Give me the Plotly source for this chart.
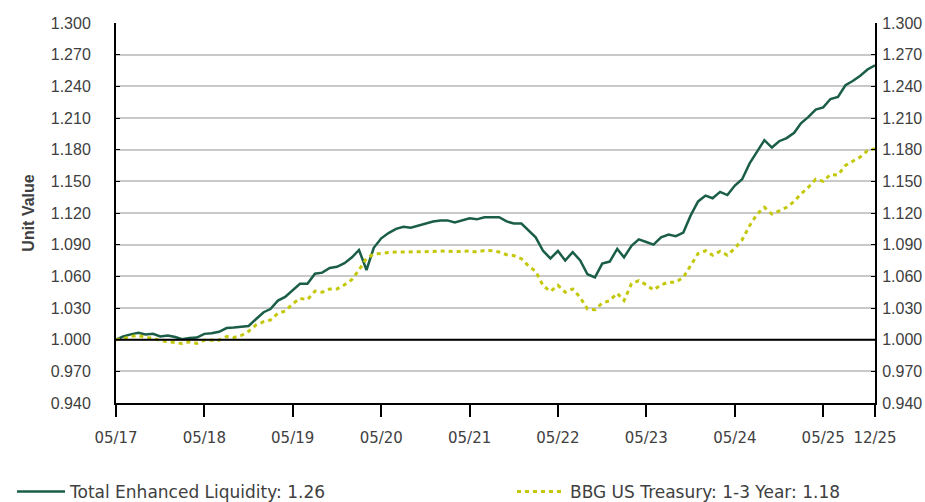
import pandas as pd
import plotly.graph_objects as go

# Month-end dates, May 2017 through December 2025
dates = pd.date_range("2017-05-31", periods=104, freq="ME")

enhanced_liquidity = [
    1.000, 1.003, 1.005, 1.0065, 1.005, 1.0055, 1.003, 1.004, 1.0025, 1.0005,
    1.0015, 1.002, 1.0055, 1.006, 1.0075, 1.011, 1.0115, 1.012, 1.013, 1.0196,
    1.026, 1.029, 1.037, 1.0405, 1.047, 1.053, 1.053, 1.0625, 1.0635, 1.068,
    1.069, 1.0725, 1.078, 1.085, 1.066, 1.087, 1.096, 1.101, 1.105, 1.107,
    1.106, 1.108, 1.110, 1.112, 1.113, 1.113, 1.111, 1.113, 1.115, 1.114,
    1.116, 1.116, 1.116, 1.112, 1.110, 1.110, 1.103, 1.097, 1.084, 1.077,
    1.084, 1.075, 1.083, 1.075, 1.062, 1.059, 1.072, 1.074, 1.086, 1.078,
    1.089, 1.095, 1.0925, 1.090, 1.097, 1.0995, 1.098, 1.1015, 1.1175, 1.131,
    1.1365, 1.134, 1.140, 1.137, 1.146, 1.152, 1.167, 1.178, 1.189, 1.182,
    1.188, 1.191, 1.196, 1.205, 1.211, 1.218, 1.220, 1.228, 1.230, 1.241,
    1.245, 1.250, 1.256, 1.260,
]

treasury_1_3 = [
    1.000, 1.001, 1.003, 1.004, 1.002, 1.0015, 0.999, 0.998, 0.9965, 0.9963,
    0.998, 0.9965, 0.9995, 0.9995, 0.9995, 1.003, 1.002, 1.004, 1.008, 1.014,
    1.017, 1.0186, 1.025, 1.027, 1.034, 1.039, 1.038, 1.046, 1.045, 1.048,
    1.048, 1.052, 1.057, 1.066, 1.077, 1.081, 1.082, 1.0825, 1.083, 1.083,
    1.083, 1.083, 1.0835, 1.0835, 1.084, 1.0835, 1.0835, 1.0835, 1.084, 1.083,
    1.0845, 1.0843, 1.083, 1.0805, 1.0796, 1.0767, 1.0695, 1.0647, 1.051, 1.0458,
    1.0515, 1.045, 1.048, 1.040, 1.029, 1.0284, 1.0347, 1.037, 1.044, 1.037,
    1.053, 1.056, 1.052, 1.047, 1.052, 1.0544, 1.0544, 1.059, 1.070, 1.0816,
    1.0843, 1.080, 1.0837, 1.080, 1.0867, 1.0946, 1.108, 1.119, 1.1254, 1.119,
    1.122, 1.1254, 1.131, 1.138, 1.1445, 1.152, 1.150, 1.1565, 1.156, 1.165,
    1.169, 1.173, 1.179, 1.181,
]

series_names = [
    "Total Enhanced Liquidity: 1.26",
    "BBG US Treasury: 1-3 Year: 1.18",
]

x_tick_dates = pd.to_datetime([
    "2017-05-31", "2018-05-31", "2019-05-31", "2020-05-31", "2021-05-31",
    "2022-05-31", "2023-05-31", "2024-05-31", "2025-05-31", "2025-12-31",
])
x_tick_labels = ["05/17", "05/18", "05/19", "05/20", "05/21",
                 "05/22", "05/23", "05/24", "05/25", "12/25"]

y_ticks = [0.94, 0.97, 1.00, 1.03, 1.06, 1.09, 1.12, 1.15, 1.18, 1.21, 1.24, 1.27, 1.30]

GREEN = "#1b5e47"
LIME = "#c4c80c"
TICK_FONT = dict(family="Liberation Sans, Arial, sans-serif", size=16, color="#404040")
CAT_FAMILY = "DejaVu Sans, Liberation Sans, sans-serif"
CAT_FONT = dict(family=CAT_FAMILY, size=15, color="#404040")

fig = go.Figure()
fig.add_trace(go.Scatter(
    x=dates, y=enhanced_liquidity, name=series_names[0], mode="lines",
    line=dict(color=GREEN, width=2.5), legend="legend",
))
fig.add_trace(go.Scatter(
    x=dates, y=treasury_1_3, name=series_names[1], mode="lines",
    line=dict(color=LIME, width=3, dash="4px,4px"), yaxis="y2", legend="legend2",
))

# Baseline at 1.000
fig.add_shape(type="line", xref="paper", x0=0, x1=1, yref="y", y0=1.0, y1=1.0,
              line=dict(color="black", width=2), layer="above")

yaxis_common = dict(
    range=[0.94, 1.30], tickvals=y_ticks, tickformat=".3f",
    tickfont=TICK_FONT, showline=True, linecolor="black", linewidth=2,
    ticks="inside", ticklen=4, tickcolor="black", tickwidth=1,
    automargin=False,
)

legend_common = dict(
    orientation="h", xref="container", yref="container",
    yanchor="middle", xanchor="left", y=0.02,
    font=dict(family=CAT_FAMILY, size=17, color="#404040"),
    itemwidth=48, bgcolor="rgba(0,0,0,0)",
)

fig.update_layout(
    width=925, height=502,
    margin=dict(l=116, r=50, t=23, b=99, autoexpand=False),
    paper_bgcolor="white", plot_bgcolor="white",
    showlegend=True,
    legend=dict(**legend_common, x=12 / 925),
    legend2=dict(**legend_common, x=512 / 925),
    xaxis=dict(
        range=[dates[0], dates[-1]], tickvals=x_tick_dates, ticktext=x_tick_labels,
        tickfont=CAT_FONT, showgrid=False, showline=True, linecolor="black",
        linewidth=2, ticks="outside", ticklen=12, tickcolor="black", tickwidth=2,
        ticklabelstandoff=8, automargin=False,
    ),
    yaxis=dict(
        **yaxis_common,
        showgrid=True, gridcolor="#c9c9c9", gridwidth=2,
        ticklabelstandoff=20,
        title=dict(text="<b>Unit Value</b>", standoff=12,
                   font=dict(family="Liberation Sans, Arial, sans-serif", size=16, color="#404040")),
    ),
    yaxis2=dict(
        **yaxis_common,
        overlaying="y", side="right", matches="y", showgrid=False,
        ticklabelstandoff=2,
    ),
)

fig.write_html("out.html")
